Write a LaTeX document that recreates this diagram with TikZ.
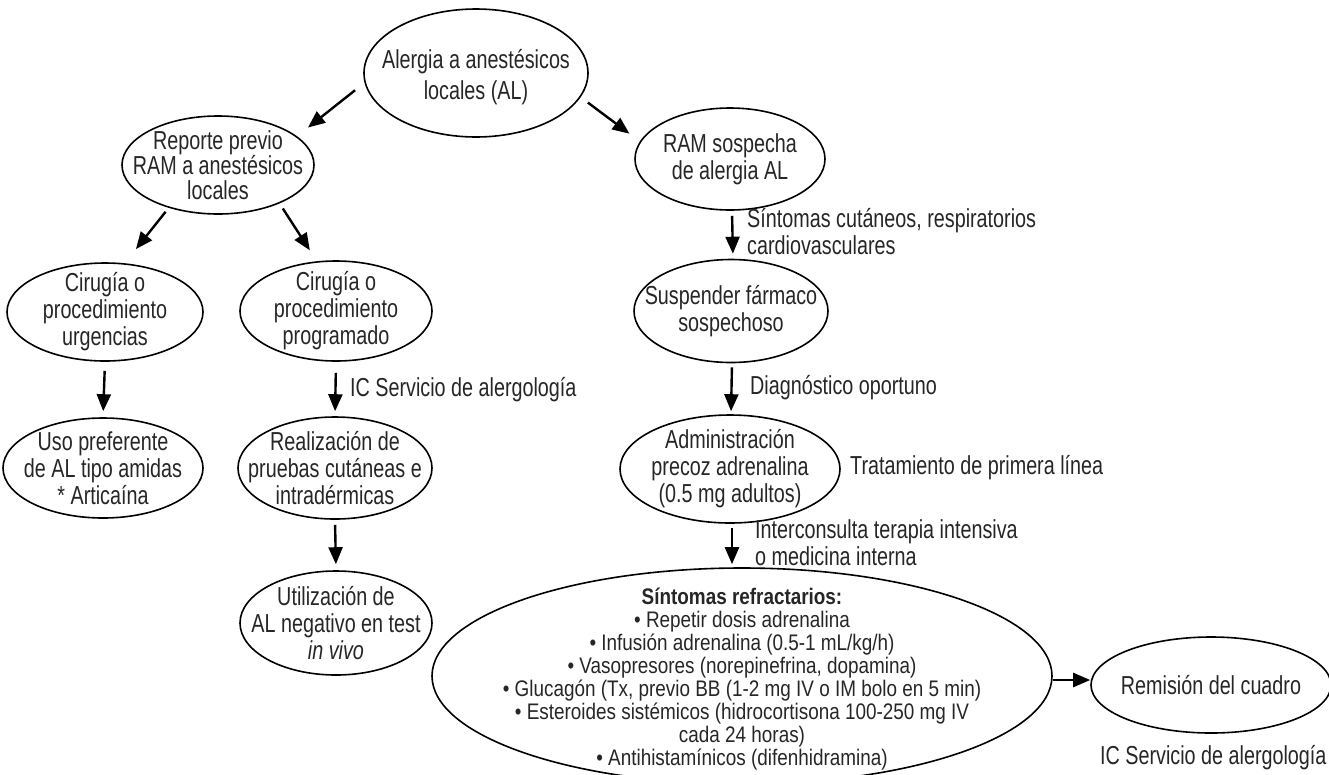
\documentclass[tikz,border=0pt]{standalone}
\usepackage{fontspec}
\setmainfont{Liberation Sans}[FakeStretch=0.76]
\newfontfamily\bigfont{Liberation Sans}[FakeStretch=0.84]
\usetikzlibrary{shapes.geometric,arrows.meta}
\definecolor{txt}{HTML}{262626}
\begin{document}
\begin{tikzpicture}[x=1pt,y=-1pt,
  el/.style={draw, ellipse, line width=1.6pt, inner sep=0pt},
  eltext/.style={text=txt, align=center, inner sep=0pt, font=\fontsize{26}{27}\selectfont},
  bigtext/.style={text=txt, align=center, inner sep=0pt, font=\bigfont\fontsize{22.5}{23}\selectfont},
  arr/.style={line width=2.4pt, -{Triangle[length=17pt,width=14pt]}},
  lbl/.style={text=txt, font=\fontsize{26}{27}\selectfont, inner sep=0pt, align=left}]
\useasboundingbox (0,0) rectangle (1329,774);

% nodes
\node[el, minimum width=224pt, minimum height=128pt,
  label={[eltext,name=topt,yshift=-4pt,font=\fontsize{26}{31}\selectfont]center:{Alergia a anestésicos\\locales (AL)}}] (top) at (476,73) {};
\node[el, minimum width=192pt, minimum height=98pt,
  label={[eltext,name=rept,font=\fontsize{26}{24.5}\selectfont]center:{Reporte previo\\RAM a anestésicos\\locales}}] (rep) at (218,165) {};
\node[el, minimum width=196pt, minimum height=98pt,
  label={[eltext,name=urgt]center:{Cirugía o\\procedimiento\\urgencias}}] (urg) at (105,312) {};
\node[el, minimum width=200pt, minimum height=100pt,
  label={[eltext,name=usot]center:{Uso preferente\\de AL tipo amidas\\* Articaína}}] (uso) at (103,468) {};
\node[el, minimum width=192pt, minimum height=100pt,
  label={[eltext,name=progt]center:{Cirugía o\\procedimiento\\programado}}] (prog) at (336,311) {};
\node[el, minimum width=194pt, minimum height=102pt,
  label={[eltext,name=realt]center:{Realización de\\pruebas cutáneas e\\intradérmicas}}] (real) at (335,468) {};
\node[el, minimum width=192pt, minimum height=104pt,
  label={[eltext,name=utilt]center:{Utilización de\\AL negativo en test\\\textit{in vivo}}}] (util) at (336,623) {};
\node[el, minimum width=190pt, minimum height=102pt,
  label={[eltext,name=ramt]center:{RAM sospecha\\de alergia AL}}] (ram) at (730,159) {};
\node[el, minimum width=194pt, minimum height=103pt,
  label={[eltext,name=suspt]center:{Suspender fármaco\\sospechoso}}] (susp) at (731,311) {};
\node[el, minimum width=220pt, minimum height=108pt,
  label={[eltext,name=admt]center:{Administración\\precoz adrenalina\\(0.5 mg adultos)}}] (adm) at (730,469) {};
\node[el, minimum width=620pt, minimum height=216pt,
  label={[bigtext,name=bigt,yshift=-3pt]center:{\textbf{Síntomas refractarios:}\\
   • Repetir dosis adrenalina\\
   • Infusión adrenalina (0.5-1 mL/kg/h)\\
   • Vasopresores (norepinefrina, dopamina)\\
   • Glucagón (Tx, previo BB (1-2 mg IV o IM bolo en 5 min)\\
   • Esteroides sistémicos (hidrocortisona 100-250 mg IV\\
   cada 24 horas)\\
   • Antihistamínicos (difenhidramina)}}] (big) at (742,676) {};
\node[el, minimum width=240pt, minimum height=96pt,
  label={[eltext,name=remt]center:{Remisión del cuadro}}] (rem) at (1211,685) {};

% labels
\node[lbl, anchor=west] (l1) at (350,390) {IC Servicio de alergología};
\node[lbl, anchor=north west] (l2) at (747,208) {Síntomas cutáneos, respiratorios\\cardiovasculares};
\node[lbl, anchor=west] (l3) at (750,388) {Diagnóstico oportuno};
\node[lbl, anchor=west] (l4) at (850,468) {Tratamiento de primera línea};
\node[lbl, anchor=north west] (l5) at (755,519) {Interconsulta terapia intensiva\\o medicina interna};
\node[lbl, anchor=west] (l6) at (1100,758) {IC Servicio de alergología};

% connectors
\draw[arr, shorten <=12pt, shorten >=14pt] (top.185) -- (rep.20);
\draw[arr, shorten <=9pt, shorten >=13pt] (top.347) -- (ram.169);
\draw[arr, shorten <=5pt, shorten >=18pt] (rep.221) -- (urg.68);
\draw[arr, shorten <=6pt, shorten >=13pt] (rep.328) -- (prog.111);
\draw[arr, shorten <=9pt, shorten >=6pt] (urg.south) -- (uso.north);
\draw[arr, shorten <=11pt, shorten >=5pt] (prog.south) -- (real.north);
\draw[arr, shorten <=5pt, shorten >=6pt] (real.south) -- (util.north);
\draw[arr, shorten <=5pt, shorten >=5pt] ([xshift=2pt]ram.south) -- ([xshift=2pt]susp.north);
\draw[arr, shorten <=4pt, shorten >=3pt] ([xshift=1pt]susp.south) -- ([xshift=1pt]adm.north);
\draw[arr, shorten <=4pt, shorten >=3pt] ([xshift=2pt]adm.south) -- ([xshift=-10pt]big.north);
\draw[arr] ([yshift=5pt]big.east |- rem.west) -- ([yshift=5pt]rem.west);
\end{tikzpicture}
\end{document}
